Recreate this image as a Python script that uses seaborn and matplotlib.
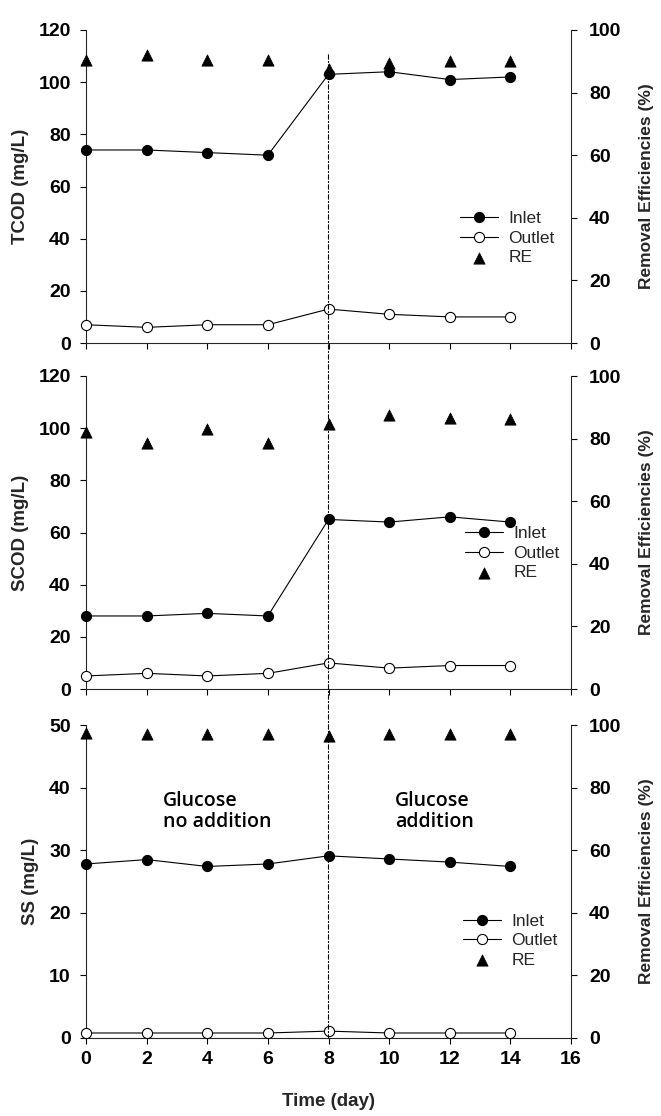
import matplotlib
matplotlib.use("Agg")
import matplotlib.pyplot as plt
import seaborn as sns
import pandas as pd
from matplotlib.patches import ConnectionPatch

# ---------------- data ----------------
days = [0, 2, 4, 6, 8, 10, 12, 14]

tcod_inlet = [74, 74, 73, 72, 103, 104, 101, 102]
tcod_outlet = [7, 6, 7, 7, 13, 11, 10, 10]
tcod_re = [90.5, 92.0, 90.5, 90.3, 87.4, 89.5, 90.1, 90.2]

scod_inlet = [28, 28, 29, 28, 65, 64, 66, 64]
scod_outlet = [5, 6, 5, 6, 10, 8, 9, 9]
scod_re = [82.2, 78.7, 83.0, 78.7, 84.7, 87.6, 86.6, 86.2]

ss_inlet = [27.8, 28.5, 27.4, 27.8, 29.1, 28.6, 28.1, 27.4]
ss_outlet = [0.8, 0.8, 0.8, 0.8, 1.1, 0.8, 0.8, 0.8]
ss_re = [97.3, 97.2, 97.2, 97.1, 96.6, 97.2, 97.2, 97.1]

panel_ylabels = ["TCOD (mg/L)", "SCOD (mg/L)", "SS (mg/L)"]
right_ylabel = "Removal Efficiencies (%)"
xlabel = "Time (day)"
legend_labels = ["Inlet", "Outlet", "RE"]
xticks = [0, 2, 4, 6, 8, 10, 12, 14, 16]
text_left = "Glucose\nno addition"
text_right = "Glucose\naddition"

# ---------------- style ----------------
sns.set_style("ticks")
plt.rcParams["font.family"] = ["Liberation Sans", "DejaVu Sans"]
plt.rcParams["axes.linewidth"] = 0.8

fig = plt.figure(figsize=(6.61, 11.16), dpi=100)

W = 661.0
H = 1116.0
left = 86 / W
width = (571 - 86) / W
panels_px = [(30, 343), (376, 689), (725, 1038)]

datasets = [
    (tcod_inlet, tcod_outlet, tcod_re, 120, 20, (0.771, 0.335)),
    (scod_inlet, scod_outlet, scod_re, 120, 20, (0.781, 0.434)),
    (ss_inlet, ss_outlet, ss_re, 50, 10, (0.777, 0.311)),
]

fam = ["Liberation Sans", "DejaVu Sans"]
tick_font = dict(family=fam, weight="bold", size=14)
label_font = dict(family=fam, weight="bold", size=13.5)
right_label_font = dict(family=fam, weight="bold", size=12.5)

axes = []
for i, ((top_px, bot_px), (inl, outl, re, ymax, ystep, legpos)) in enumerate(zip(panels_px, datasets)):
    ax = fig.add_axes([left, 1 - bot_px / H, width, (bot_px - top_px) / H])
    ax2 = ax.twinx()
    axes.append(ax)

    df = pd.DataFrame({"day": days, "inlet": inl, "outlet": outl, "re": re})

    sns.lineplot(data=df, x="day", y="inlet", ax=ax, color="black", linewidth=0.8,
                 marker="o", markersize=7.3, markerfacecolor="black",
                 markeredgecolor="black", clip_on=False, zorder=3)
    h_in = ax.lines[-1]
    sns.lineplot(data=df, x="day", y="outlet", ax=ax, color="black", linewidth=0.8,
                 marker="o", markersize=7.3, markerfacecolor="white",
                 markeredgecolor="black", markeredgewidth=0.8, clip_on=False, zorder=3)
    h_out = ax.lines[-1]
    sns.scatterplot(data=df, x="day", y="re", ax=ax2, marker="^", s=66,
                    color="black", edgecolor="black", linewidth=0.5,
                    clip_on=False, zorder=4)
    h_re = ax2.collections[-1]

    for a in (ax, ax2):
        if a.get_legend() is not None:
            a.get_legend().remove()

    ax.set_xlim(0, 16)
    ax.set_ylim(0, ymax)
    ax2.set_ylim(0, 100)
    ax.set_xticks(xticks)
    ax.set_yticks(list(range(0, ymax + 1, ystep)))
    ax2.set_yticks(list(range(0, 101, 20)))

    ax.spines["top"].set_visible(False)
    ax.spines["right"].set_visible(False)
    ax2.spines["top"].set_visible(False)
    ax2.spines["left"].set_visible(False)
    ax2.spines["bottom"].set_visible(False)

    ax.tick_params(axis="both", direction="out", length=4, width=0.8, color="black")
    ax.tick_params(axis="y", pad=7)
    ax.tick_params(axis="x", pad=5)
    ax2.tick_params(axis="y", direction="out", length=4, width=0.8, pad=9, color="black")

    for lab in ax.get_yticklabels() + ax2.get_yticklabels() + ax.get_xticklabels():
        lab.set_fontproperties(tick_font)
        lab.set_color("black")

    if i < 2:
        ax.set_xticklabels([])
        ax.set_xlabel("")
    else:
        ax.set_xlabel(xlabel, labelpad=18, **label_font)

    ax.set_ylabel(panel_ylabels[i], labelpad=7, **label_font)
    ax2.set_ylabel(right_ylabel, labelpad=13, **right_label_font)

    leg = ax2.legend(handles=[h_in, h_out, h_re], labels=legend_labels,
                     loc="center left", bbox_to_anchor=legpos, frameon=False,
                     borderpad=0, borderaxespad=0, handlelength=2.2,
                     handletextpad=0.6, labelspacing=0.25,
                     prop=dict(family=fam, size=12.5))

    ax.set_facecolor("none")

# annotations in the bottom panel
ax3 = axes[2]
txt_font = dict(family=["Open Sans", "Noto Sans", "DejaVu Sans"], size=14,
                weight="semibold", color="black")
ax3.text(2.54, 39.5, text_left, ha="left", va="top", linespacing=1.1, **txt_font)
ax3.text(10.2, 39.5, text_right, ha="left", va="top", linespacing=1.1, **txt_font)

# vertical dashed divider running through all panels at day 8
con = ConnectionPatch(xyA=(8, 110.5), coordsA="data", axesA=axes[0],
                      xyB=(8, 0), coordsB="data", axesB=axes[2],
                      color="black", linewidth=0.8, linestyle=(0, (4, 2, 1, 2)),
                      zorder=1)
fig.add_artist(con)

fig.savefig("out.png", dpi=100, facecolor="white")
